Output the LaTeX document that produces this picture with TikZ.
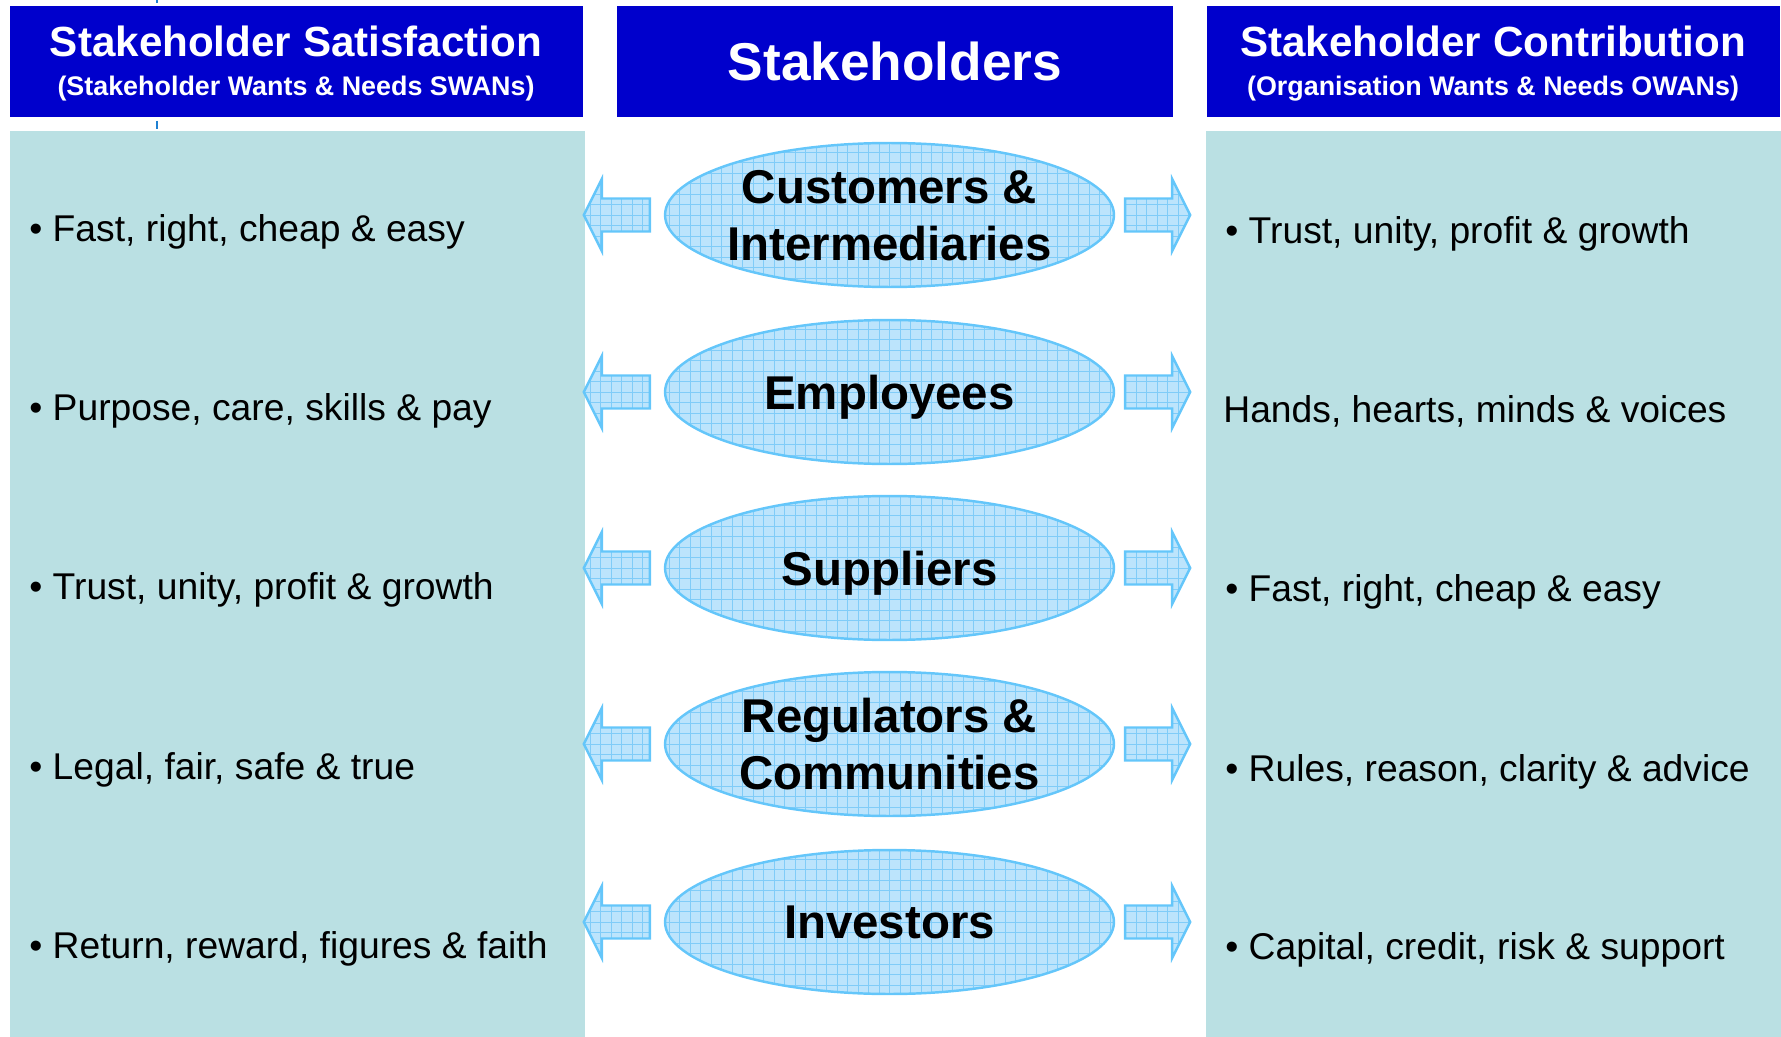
\documentclass[tikz,border=0pt]{standalone}
\usepackage{fontspec}
\setmainfont{Liberation Sans}
\usetikzlibrary{shapes.geometric}

\definecolor{hdrblue}{RGB}{0,0,204}
\definecolor{panelteal}{RGB}{186,224,227}
\definecolor{skyfill}{RGB}{188,228,252}
\definecolor{skyline}{RGB}{100,198,250}
\definecolor{skygrid}{RGB}{128,204,248}
\definecolor{guideblue}{RGB}{30,128,210}

\tikzset{
  gridfill/.style={fill=skyfill, draw=skyline, line width=1.4pt,
    path picture={\draw [skygrid, line width=0.5pt] (path picture bounding box.south west) grid [step=0.21cm] (path picture bounding box.north east);}},
  stakeellipse/.style={gridfill, ellipse, minimum width=8.98cm, minimum height=2.88cm, inner sep=0pt},
  stakename/.style={font=\bfseries\fontsize{27}{32.5}\selectfont, align=center, inner sep=0pt, text depth=0pt},
  wants/.style={anchor=base west, font=\fontsize{21.2}{25}\selectfont, inner sep=0pt},
  hdrtitle/.style={anchor=base, text=white, font=\bfseries\fontsize{24}{29}\selectfont, inner sep=0pt},
  hdrsub/.style={anchor=base, text=white, font=\bfseries\fontsize{15.3}{18}\selectfont, inner sep=0pt}
}

\begin{document}
\begin{tikzpicture}[x=0.02cm, y=-0.02cm]

\useasboundingbox (0,0) rectangle (1781,1037);

\draw [guideblue, line width=1.7pt] (157,0) -- (157,3);
\draw [guideblue, line width=1.7pt] (157,121) -- (157,129);

\fill [hdrblue] (10,6) rectangle (583,117);
\fill [hdrblue] (617,6) rectangle (1173,117);
\fill [hdrblue] (1207,6) rectangle (1780,117);

\fill [panelteal] (10,131) rectangle (585,1037);
\fill [panelteal] (1206,131) rectangle (1781,1037);

\node [hdrtitle] (sattitle) at (296,57) {Stakeholder Satisfaction};
\node [hdrsub] (satsub) at (296,96) {(Stakeholder Wants \& Needs SWANs)};
\node [hdrtitle, font=\bfseries\fontsize{30.3}{36}\selectfont] (stktitle) at (895,81) {Stakeholders};
\node [hdrtitle] (contitle) at (1493,57) {Stakeholder Contribution};
\node [hdrsub] (consub) at (1493,96) {(Organisation Wants \& Needs OWANs)};

\foreach \y/\name/\label in {215/cust/{Customers \&\\Intermediaries}, 392/empl/Employees,
  568/supp/Suppliers, 744/regu/{Regulators \&\\Communities}, 922/inve/Investors}
{
  \node [stakeellipse] (\name) at (889.5,\y) {};
  \node [stakename] (\name text) at (\name) {\label};
  \draw [gridfill, shift={(\name.west)}] (-14,-16.5) -- (-62,-16.5) -- (-62,-36) -- (-80,0)
    -- (-62,36) -- (-62,16.5) -- (-14,16.5) -- cycle;
  \draw [gridfill, shift={(\name.east)}] (10,-16.5) -- (57,-16.5) -- (57,-36) -- (75,0)
    -- (57,36) -- (57,16.5) -- (10,16.5) -- cycle;
}

\node [wants] (sat1) at (29,241) {• Fast, right, cheap \& easy};
\node [wants] (sat2) at (29,420) {• Purpose, care, skills \& pay};
\node [wants] (sat3) at (29,599) {• Trust, unity, profit \& growth};
\node [wants] (sat4) at (29,779) {• Legal, fair, safe \& true};
\node [wants] (sat5) at (29,958) {• Return, reward, figures \& faith};

\node [wants] (con1) at (1225,244) {• Trust, unity, profit \& growth};
\node [wants] (con2) at (1223,422) {Hands, hearts, minds \& voices};
\node [wants] (con3) at (1225,601) {• Fast, right, cheap \& easy};
\node [wants] (con4) at (1225,781) {• Rules, reason, clarity \& advice};
\node [wants] (con5) at (1225,959) {• Capital, credit, risk \& support};

\end{tikzpicture}
\end{document}
